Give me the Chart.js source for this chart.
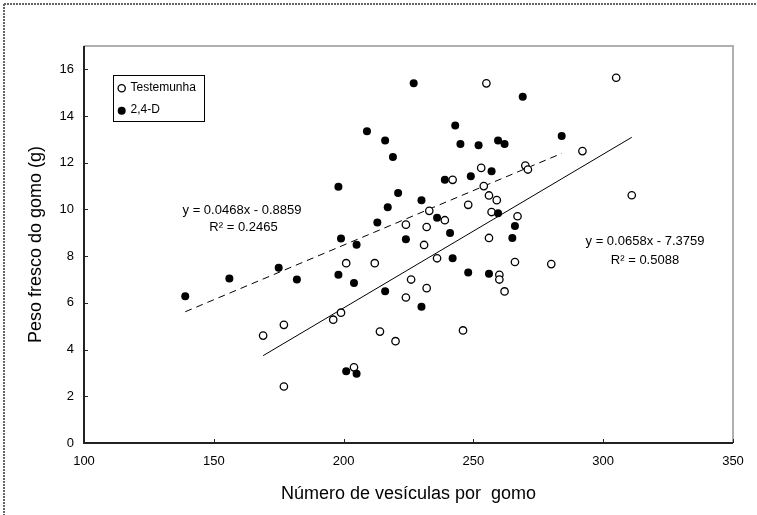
<!DOCTYPE html>
<html>
<head>
<meta charset="utf-8">
<script src="https://cdn.jsdelivr.net/npm/chart.js@4"></script>
<style>
  html, body { margin: 0; padding: 0; background: #fff; }
  #wrap { width: 757px; height: 515px; position: relative; }
</style>
</head>
<body>
<div id="wrap"><canvas id="c" width="757" height="515"></canvas></div>
<script>
// ---- Data ----
const testemunhaX = [255,253,242,254,256,259,248,233,239,257,224,232,231,256,236,201,212,260,260,226,232,224,196,199,214,220,246,204,305,292,270,271,311,267,266,280,262,169,177,177];
const testemunhaY = [15.4,11.78,11.27,11.0,10.6,10.4,10.2,9.94,9.54,9.89,9.35,9.25,8.48,8.78,7.91,7.7,7.7,7.2,7.0,7.0,6.63,6.23,5.28,5.58,4.77,4.36,4.82,3.24,15.64,12.5,11.88,11.71,10.61,9.71,7.75,7.66,6.49,4.6,5.06,2.42];

const dX = [227,209,243,216,245,252,259.5,219,198,257,239,249,221,217,230,236,259.5,213,199,205,224,241,242,198,204,248,256,216,230,201,205,269,284,262,266,265,139,156,175,182];
const dY = [15.4,13.35,13.6,12.95,12.8,12.75,12.95,12.25,10.97,11.64,11.27,11.42,10.7,10.1,10.4,9.65,9.84,9.44,8.76,8.49,8.72,8.99,7.91,7.2,6.85,7.3,7.25,6.5,5.83,3.07,2.97,14.83,13.15,12.8,9.29,8.78,6.28,7.04,7.5,7.0];

// trendline end points (as drawn)
const trendTestX = [169, 311];
const trendTestY = [3.74, 13.09];
const trendDX = [139, 284];
const trendDY = [5.62, 12.40];

const seriesNames = ['Testemunha', '2,4-D'];
const eqTest = ['y = 0.0658x - 7.3759', 'R² = 0.5088'];
const eqD = ['y = 0.0468x - 0.8859', 'R² = 0.2465'];
const xTicks = [100, 150, 200, 250, 300, 350];
const yTicks = [0, 2, 4, 6, 8, 10, 12, 14, 16];
const xTitle = 'Número de vesículas por  gomo';
const yTitle = 'Peso fresco do gomo (g)';

const toPts = (xs, ys) => xs.map((x, i) => ({x: x, y: ys[i]}));

const FONT = '"Liberation Sans", Arial, sans-serif';

const decor = {
  id: 'decor',
  beforeDraw(chart) {
    const ctx = chart.ctx;
    ctx.save();
    ctx.fillStyle = '#fff';
    ctx.fillRect(0, 0, chart.width, chart.height);
    // dotted outer border (top & left)
    ctx.strokeStyle = '#666';
    ctx.lineWidth = 2;
    ctx.setLineDash([2, 1]);
    ctx.beginPath();
    ctx.moveTo(4, 4); ctx.lineTo(chart.width, 4);
    ctx.moveTo(4, 4); ctx.lineTo(4, chart.height);
    ctx.stroke();
    ctx.restore();
  },
  afterDatasetsDraw(chart) {
    const ctx = chart.ctx;
    const a = chart.chartArea;
    const xs = chart.scales.x, ys = chart.scales.y;
    ctx.save();
    // gray plot-area border top & right
    ctx.strokeStyle = '#b0b0b0';
    ctx.lineWidth = 2;
    ctx.beginPath();
    ctx.moveTo(a.left, a.top); ctx.lineTo(a.right, a.top); ctx.lineTo(a.right, a.bottom);
    ctx.stroke();
    // dark axes left & bottom
    ctx.strokeStyle = '#222';
    ctx.lineWidth = 2;
    ctx.beginPath();
    ctx.moveTo(a.left, a.top); ctx.lineTo(a.left, a.bottom); ctx.lineTo(a.right, a.bottom);
    ctx.stroke();
    // inward tick marks
    ctx.lineWidth = 1;
    ctx.beginPath();
    yTicks.forEach(v => { const p = Math.round(ys.getPixelForValue(v)) + 0.5; ctx.moveTo(a.left, p); ctx.lineTo(a.left + 4, p); });
    xTicks.forEach(v => { const p = Math.round(xs.getPixelForValue(v)) + 0.5; ctx.moveTo(p, a.bottom); ctx.lineTo(p, a.bottom - 4); });
    ctx.stroke();

    // equations
    ctx.fillStyle = '#000';
    ctx.font = '13px ' + FONT;
    ctx.textAlign = 'center';
    ctx.textBaseline = 'middle';
    ctx.fillText(eqD[0], 242, 210);
    ctx.fillText(eqD[1], 243.5, 227.5);
    ctx.fillText(eqTest[0], 645, 241.5);
    ctx.fillText(eqTest[1], 645, 260);

    // legend
    ctx.strokeStyle = '#000';
    ctx.lineWidth = 1;
    ctx.strokeRect(113.5, 75.5, 91, 46);
    ctx.beginPath(); ctx.arc(121.7, 88.3, 3.6, 0, Math.PI * 2);
    ctx.fillStyle = '#fff'; ctx.fill(); ctx.lineWidth = 1.3; ctx.stroke();
    ctx.beginPath(); ctx.arc(121.7, 110.7, 4, 0, Math.PI * 2);
    ctx.fillStyle = '#000'; ctx.fill();
    ctx.font = '12px ' + FONT;
    ctx.textAlign = 'left';
    ctx.fillText(seriesNames[0], 130.5, 87.5);
    ctx.fillText(seriesNames[1], 130.5, 110);

    // axis titles
    ctx.font = '18px ' + FONT;
    ctx.textAlign = 'center';
    ctx.fillText(xTitle, (a.left + a.right) / 2, 494);
    ctx.save();
    ctx.translate(36, (a.top + a.bottom) / 2);
    ctx.rotate(-Math.PI / 2);
    ctx.fillText(yTitle, 0, 0);
    ctx.restore();
    ctx.restore();
  }
};

new Chart(document.getElementById('c'), {
  type: 'scatter',
  data: {
    datasets: [
      { label: seriesNames[0], data: toPts(testemunhaX, testemunhaY), pointStyle: 'circle', pointRadius: 3.7, pointBorderWidth: 1.3, pointBackgroundColor: '#fff', pointBorderColor: '#000', showLine: false, order: 2 },
      { label: seriesNames[1], data: toPts(dX, dY), pointStyle: 'circle', pointRadius: 4, pointBorderWidth: 0, pointBackgroundColor: '#000', pointBorderColor: '#000', showLine: false, order: 1 },
      { label: 'trendTest', data: toPts(trendTestX, trendTestY), type: 'line', showLine: true, borderColor: '#000', borderWidth: 1, pointRadius: 0, fill: false, order: 3 },
      { label: 'trendD', data: toPts(trendDX, trendDY), type: 'line', showLine: true, borderColor: '#000', borderWidth: 1, borderDash: [7, 5], pointRadius: 0, fill: false, order: 3 }
    ]
  },
  options: {
    responsive: false,
    animation: false,
    layout: { padding: { left: 0, top: 46, right: 24, bottom: 0 } },
    plugins: { legend: { display: false }, tooltip: { enabled: false } },
    scales: {
      x: {
        type: 'linear', min: 100, max: 350,
        afterBuildTicks: s => { s.ticks = xTicks.map(v => ({value: v})); },
        afterFit: s => { s.height = 72; },
        grid: { display: false, drawTicks: false },
        border: { display: false },
        ticks: { color: '#000', font: { family: FONT, size: 13 }, padding: 11, maxRotation: 0 }
      },
      y: {
        type: 'linear', min: 0, max: 17,
        afterBuildTicks: s => { s.ticks = yTicks.map(v => ({value: v})); },
        afterFit: s => { s.width = 84; },
        grid: { display: false, drawTicks: false },
        border: { display: false },
        ticks: { color: '#000', font: { family: FONT, size: 13 }, padding: 10 }
      }
    }
  },
  plugins: [decor]
});
</script>
</body>
</html>
